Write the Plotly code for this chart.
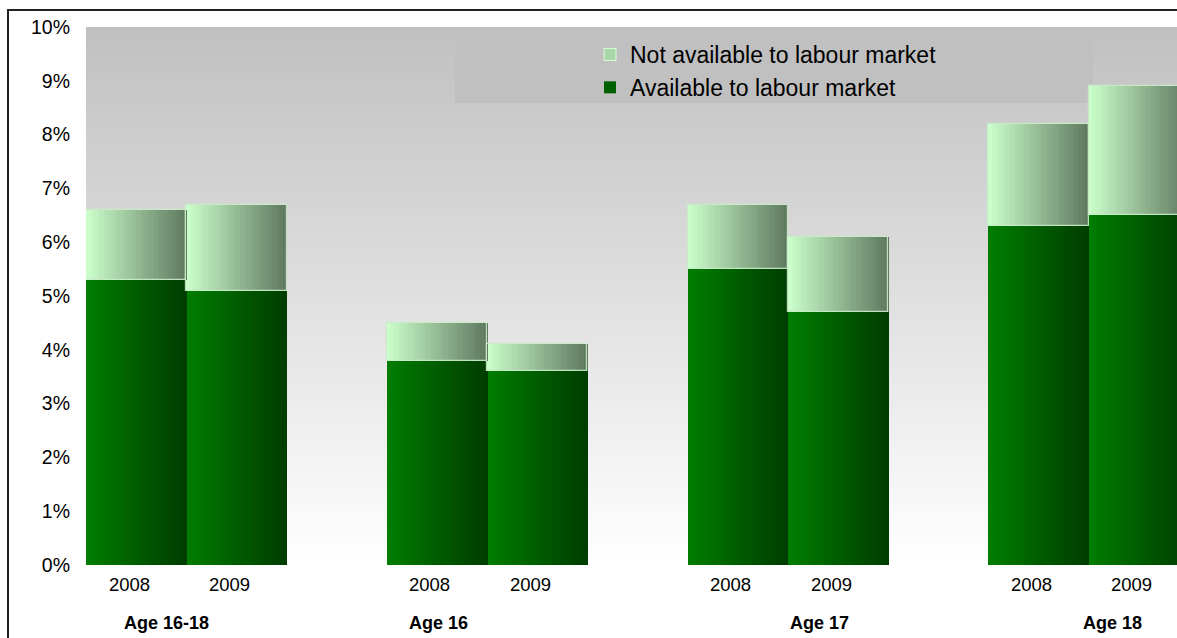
import plotly.graph_objects as go

# ---- data -------------------------------------------------------------
groups = ["Age 16-18", "Age 16", "Age 17", "Age 18"]
years = ["2008", "2009"]
available = [5.3, 5.1, 3.8, 3.6, 5.5, 4.7, 6.3, 6.5]          # % available to labour market
not_available = [1.3, 1.6, 0.7, 0.5, 1.2, 1.4, 1.9, 2.4]      # % not available to labour market
y_ticks = [0, 1, 2, 3, 4, 5, 6, 7, 8, 9, 10]

# ---- layout constants -------------------------------------------------
W, H = 1177, 638
M_L, M_T, M_B, M_R = 86, 27, 73, 0
PW, PH = W - M_L - M_R, H - M_T - M_B
GROUP_STEP = 3          # two bars plus one empty slot per group
X_MIN, X_MAX = -0.5, 10.38

# bar slot positions: 0,1 | 3,4 | 6,7 | 9,10
positions = []
for g in range(len(groups)):
    for j in range(len(years)):
        positions.append(g * GROUP_STEP + j)

N_STRIPS = 28


def lerp(c0, c1, t):
    return "rgb(%d,%d,%d)" % tuple(round(a + (b - a) * t) for a, b in zip(c0, c1))


AVAIL_L, AVAIL_R = (0, 126, 0), (0, 60, 0)
NOTAV_L, NOTAV_R = (204, 255, 204), (94, 120, 94)

fig = go.Figure()


def add_gradient_bars(values, bases, c_left, c_right):
    """Draw each bar as thin vertical strips to get a left-to-right shade."""
    w = 1.0 / N_STRIPS
    for i in range(N_STRIPS):
        t = (i + 0.5) / N_STRIPS
        fig.add_trace(go.Bar(
            x=positions, y=values, base=bases,
            width=w * 1.15, offset=-0.5 + i * w,
            marker=dict(color=lerp(c_left, c_right, t), line=dict(width=0)),
            showlegend=False, hoverinfo="skip",
        ))


add_gradient_bars(available, [0] * len(available), AVAIL_L, AVAIL_R)
add_gradient_bars(not_available, available, NOTAV_L, NOTAV_R)

# pale rim around the upper segments
fig.add_trace(go.Bar(
    x=positions, y=not_available, base=available, width=1.0,
    marker=dict(color="rgba(0,0,0,0)", line=dict(color="rgba(200,235,200,0.9)", width=1.2)),
    showlegend=False, hoverinfo="skip",
))

# legend entries
fig.add_trace(go.Bar(
    x=[None], y=[None], name="Not available to labour market",
    marker=dict(color="#a9d6a9", line=dict(color="#d8ffd8", width=1)),
    legendgroup="na", legendrank=1,
))
fig.add_trace(go.Bar(
    x=[None], y=[None], name="Available to labour market",
    marker=dict(color="#006000", line=dict(width=0)),
    legendgroup="av", legendrank=2,
))

# ---- background: vertical grey-to-white wash over the plot area --------
shapes = []
n_bands = 110
top_c, bot_c = (192, 192, 192), (255, 255, 255)
for k in range(n_bands):
    y1 = 1 - k / n_bands
    y0 = 1 - (k + 1) / n_bands - 0.002
    shapes.append(dict(
        type="rect", xref="paper", yref="paper", x0=0, x1=1.0, y0=max(y0, 0), y1=y1,
        fillcolor=lerp(top_c, bot_c, (k + 0.5) / n_bands), line=dict(width=0), layer="below",
    ))


def px_x(px):
    return (px - M_L) / PW


def px_y(py):
    return (H - M_B - py) / PH


# faint panel behind the legend
shapes.append(dict(
    type="rect", xref="paper", yref="paper",
    x0=px_x(455), x1=px_x(1093), y0=px_y(103), y1=px_y(42),
    fillcolor="#c0c0c0", line=dict(width=0), layer="below",
))

# outer chart frame
shapes.append(dict(
    type="rect", xref="paper", yref="paper",
    x0=px_x(8), x1=px_x(W + 20), y0=px_y(H + 20), y1=px_y(10),
    fillcolor="rgba(0,0,0,0)", line=dict(color="#222222", width=2), layer="above",
))

# ---- category labels ---------------------------------------------------
annotations = []
for idx, pos in enumerate(positions):
    annotations.append(dict(
        x=pos, xref="x", y=px_y(584), yref="paper", text=years[idx % 2],
        showarrow=False, xshift=-7, font=dict(size=18.5, color="#000000"),
        xanchor="center", yanchor="middle",
    ))

group_label_px = [166, 438, 819, 1112]
for name, gx in zip(groups, group_label_px):
    annotations.append(dict(
        x=px_x(gx), xref="paper", y=px_y(623), yref="paper", text="<b>%s</b>" % name,
        showarrow=False, font=dict(size=18, color="#000000"),
        xanchor="center", yanchor="middle",
    ))

fig.update_layout(
    width=W, height=H,
    margin=dict(l=M_L, r=M_R, t=M_T, b=M_B, pad=0),
    paper_bgcolor="#ffffff", plot_bgcolor="rgba(0,0,0,0)",
    barmode="overlay", bargap=0,
    font=dict(family="Liberation Sans, Arial, sans-serif", color="#000000"),
    xaxis=dict(range=[X_MIN, X_MAX], showticklabels=False, showgrid=False,
               zeroline=False, showline=False, ticks=""),
    yaxis=dict(range=[0, 10], tickvals=y_ticks, ticktext=["%d%%" % v for v in y_ticks],
               showgrid=False, zeroline=False, showline=False, ticks="",
               ticklabelstandoff=15, tickfont=dict(size=19.5, color="#000000")),
    legend=dict(x=px_x(590), y=px_y(33), xanchor="left", yanchor="top",
                bgcolor="rgba(0,0,0,0)", font=dict(size=23, color="#000000"),
                traceorder="grouped", tracegroupgap=0, itemclick=False),
    shapes=shapes, annotations=annotations,
    showlegend=True,
)

fig.write_html("out.html")
